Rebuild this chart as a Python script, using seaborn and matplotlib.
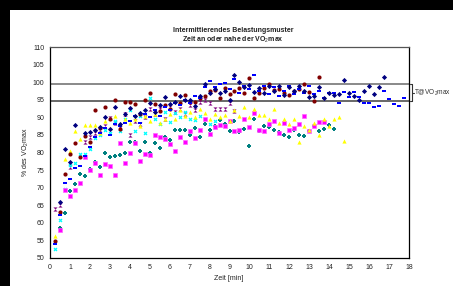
import matplotlib
matplotlib.use("Agg")
import matplotlib.pyplot as plt
from matplotlib.patches import Rectangle
from matplotlib.lines import Line2D
import seaborn as sns
import pandas as pd

# ---- data (time [min], % VO2max) ----
navy = [(0.5,65.8),(0.75,80.9),(1.0,77.2),(1.25,87.7),(1.75,85.6),(2.0,85.7),(2.25,86.4),(2.5,87.2),
        (2.75,90.2),(3.0,86.8),(3.25,92.8),(3.5,88.0),(3.75,91.0),(4.0,92.6),(4.25,90.5),(4.5,91.2),
        (4.75,92.0),(5.0,94.1),(5.25,91.5),(5.5,93.5),(5.75,95.7),(6.0,93.7),(6.25,94.5),(6.5,96.1),
        (6.75,94.8),(7.0,95.0),(7.25,93.2),(7.5,96.2),(7.75,99.5),(8.0,96.8),(8.25,98.0),(8.5,96.8),
        (8.75,97.5),(9.0,94.9),(9.25,102.0),(9.5,100.0),(9.75,98.5),(10.0,99.2),(10.25,97.2),(10.5,98.2),
        (10.75,96.8),(11.0,99.0),(11.25,97.5),(11.5,99.0),(11.75,96.3),(12.0,98.5),(12.25,97.4),(12.5,99.0),
        (12.75,97.4),(13.0,95.7),(13.25,96.2),(13.5,98.5),(13.75,95.5),(14.0,97.0),(14.25,96.4),(14.5,96.5),
        (14.75,100.6),(15.0,96.8),(15.25,96.1),(15.5,95.0),(15.75,97.4),(16.0,98.8),(16.25,96.5),(16.5,98.7),
        (16.75,101.6)]
blue = [(0.25,54.0),(0.5,62.3),(0.75,71.3),(1.0,72.5),(1.25,75.5),(1.5,76.2),(1.75,78.9),(2.0,81.5),
        (2.25,84.5),(2.5,85.5),(2.75,87.0),(3.0,85.0),(3.25,88.0),(3.5,87.5),(3.75,88.5),(4.0,89.0),
        (4.25,90.5),(4.5,88.5),(4.75,91.0),(5.0,90.0),(5.25,92.0),(5.5,90.5),(5.75,93.0),(6.0,92.0),
        (6.25,94.0),(6.5,93.5),(6.75,95.0),(7.0,94.0),(7.25,96.0),(7.5,95.5),(7.75,98.5),(8.0,100.2),
        (8.25,98.5),(8.5,99.5),(8.75,99.9),(9.0,98.0),(9.25,101.0),(9.5,97.0),(9.75,99.0),(10.0,98.0),
        (10.25,102.0),(10.5,97.5),(10.75,99.0),(11.0,96.5),(11.25,98.5),(11.5,96.0),(11.75,97.5),(12.0,99.0),
        (12.25,96.5),(12.5,98.0),(12.75,97.0),(13.0,99.0),(13.25,96.5),(13.5,97.5),(13.75,95.5),(14.0,97.0),
        (14.25,97.0),(14.5,94.2),(14.75,97.3),(15.0,95.7),(15.25,97.3),(15.5,95.7),(15.75,94.2),(16.0,94.2),
        (16.25,93.0),(16.5,93.3),(16.75,97.4),(17.0,95.2),(17.25,93.9),(17.5,93.3),(17.75,95.6)]
darkred = [(0.25,54.8),(0.5,63.0),(0.75,73.8),(1.0,79.5),(1.25,82.6),(1.5,78.6),(1.75,84.6),(2.0,83.0),
           (2.25,92.1),(2.5,87.0),(2.75,92.9),(3.0,89.5),(3.25,95.0),(3.5,86.6),(3.75,94.4),(4.0,94.5),
           (4.25,93.9),(4.5,91.0),(4.75,94.8),(5.0,96.8),(5.25,93.8),(5.5,91.9),(5.75,93.5),(6.0,92.5),
           (6.25,96.5),(6.5,94.0),(6.75,96.3),(7.0,94.3),(7.25,94.5),(7.5,95.5),(7.75,96.0),(8.0,97.6),
           (8.25,97.9),(8.5,95.4),(8.75,98.2),(9.0,96.6),(9.25,97.6),(9.5,98.2),(9.75,96.8),(10.0,101.1),
           (10.25,95.6),(10.5,97.0),(10.75,98.2),(11.0,99.5),(11.25,97.8),(11.5,98.0),(11.75,97.0),(12.0,96.4),
           (12.25,97.5),(12.5,98.0),(12.75,99.5),(13.0,97.3),(13.25,94.7),(13.5,101.4)]
yellow = [(0.25,56.3),(0.75,78.2),(1.0,80.3),(1.25,86.2),(1.5,83.8),(1.75,87.8),(2.0,87.8),(2.25,87.8),
          (2.5,85.5),(2.75,89.0),(3.0,87.0),(3.25,90.5),(3.5,88.0),(3.75,89.4),(4.0,88.5),(4.25,89.4),
          (4.5,87.5),(4.75,90.5),(5.0,89.0),(5.25,91.0),(5.5,88.5),(5.75,89.5),(6.0,91.0),(6.25,89.5),
          (6.5,92.0),(6.75,90.5),(7.0,91.5),(7.25,90.0),(7.5,92.5),(7.75,91.3),(8.0,89.5),(8.25,91.0),
          (8.5,90.0),(8.75,90.7),(9.0,89.0),(9.25,92.0),(9.5,90.5),(9.75,93.0),(10.0,90.0),(10.25,92.5),
          (10.5,90.7),(10.75,90.7),(11.0,89.4),(11.25,92.3),(11.5,88.3),(11.75,89.5),(12.0,88.0),(12.25,89.6),
          (12.5,82.9),(12.75,87.6),(13.0,86.5),(13.25,88.3),(13.5,85.1),(13.75,89.5),(14.0,87.5),(14.25,89.4),
          (14.5,90.1),(14.75,83.4)]
magenta = [(0.5,58.0),(0.75,69.3),(1.0,67.5),(1.25,69.2),(1.5,71.4),(1.75,78.6),(2.0,75.0),(2.25,77.1),
           (2.5,73.7),(2.75,76.8),(3.0,76.3),(3.25,73.7),(3.5,82.6),(3.75,76.9),(4.0,79.8),(4.25,82.6),
           (4.5,77.7),(4.75,79.6),(5.0,79.2),(5.25,85.0),(5.5,84.5),(5.75,83.8),(6.0,82.3),(6.25,80.5),
           (6.5,84.5),(6.75,83.0),(7.0,86.1),(7.25,84.0),(7.5,86.5),(7.75,89.5),(8.0,85.4),(8.25,87.2),
           (8.5,87.7),(8.75,87.5),(9.0,88.9),(9.25,86.0),(9.5,86.4),(9.75,89.4),(10.0,87.3),(10.25,91.1),
           (10.5,86.4),(10.75,86.1),(11.0,88.0),(11.25,88.9),(11.5,85.6),(11.75,88.5),(12.0,86.5),(12.25,87.0),
           (12.5,88.0),(12.75,90.3),(13.0,86.0),(13.25,87.5),(13.5,88.8),(13.75,88.8)]
cyan = [(0.25,52.5),(0.5,60.7),(0.75,69.7),(1.0,76.5),(1.25,77.0),(1.5,79.6),(1.75,79.5),(2.0,81.0),
        (2.25,84.0),(2.5,85.0),(2.75,86.5),(3.0,85.5),(3.25,88.9),(3.5,86.0),(3.75,89.5),(4.0,92.0),
        (4.25,86.2),(4.5,90.5),(4.75,85.5),(5.0,95.4),(5.25,89.5),(5.5,88.0),(5.75,91.5),(6.0,88.8),
        (6.25,91.2),(6.5,90.0),(6.75,91.5),(7.0,89.4),(7.25,89.1),(7.5,90.5),(7.75,89.5),(8.0,88.2),(8.25,89.0)]
teal = [(0.5,58.4),(0.75,62.9),(1.0,69.0),(1.25,71.0),(1.5,73.8),(1.75,73.2),(2.0,75.3),(2.25,77.2),
        (2.5,75.8),(2.75,80.0),(3.0,78.7),(3.25,79.0),(3.5,79.4),(3.75,80.0),(4.0,83.0),(4.25,83.0),
        (4.5,80.5),(4.75,83.1),(5.0,80.0),(5.25,82.7),(5.5,81.2),(5.75,84.5),(6.0,83.5),(6.25,86.4),
        (6.5,86.4),(6.75,86.4),(7.0,85.0),(7.25,87.0),(7.5,84.5),(7.75,88.1),(8.0,86.5),(8.25,87.5),
        (8.5,89.2),(8.75,88.2),(9.0,86.2),(9.25,89.0),(9.5,85.9),(9.75,86.6),(10.0,81.8),(10.25,89.5),
        (10.5,86.1),(10.75,87.5),(11.0,87.3),(11.25,86.5),(11.5,85.9),(11.75,85.0),(12.0,84.5),(12.25,86.3),
        (12.5,85.0),(12.75,84.8),(13.0,86.2),(13.25,87.5),(13.5,86.0),(13.75,86.7),(14.0,87.8),(14.25,86.8)]
purple = [(0.25,64.0),(0.5,65.0),(1.0,76.0),(1.75,83.0),(2.0,84.5),(2.25,85.5),(2.5,86.5),(2.75,87.5),
          (3.0,89.8),(3.25,88.5),(3.5,87.0),(3.75,91.0),(4.0,85.0),(4.25,89.0),(4.5,88.0),(4.75,90.0),
          (5.0,92.5),(5.25,91.0),(5.5,92.5),(5.75,89.5),(6.0,93.0),(6.25,91.6),(6.5,92.5),(6.75,91.0),
          (7.0,93.5),(7.25,92.0),(7.5,94.5),(7.75,95.0),(8.0,94.0),(8.25,92.5),(8.5,92.5),(8.75,92.5),
          (9.0,94.2),(9.25,91.8)]

band_upper = 99.5
band_lower = 94.7
x_ticks = list(range(0, 19))
y_ticks = list(range(50, 111, 5))
title_1 = "Intermittierendes Belastungsmuster"
title_2 = "Zeit an oder nahe der VO$_2$max"
x_label = "Zeit [min]"
y_label = "% des VO$_2$max"
band_label = "T@VO$_2$max"

# ---- figure ----
sns.set_style("white")
plt.rcParams["font.family"] = ["Liberation Sans", "DejaVu Sans"]
plt.rcParams["mathtext.fontset"] = "custom"
plt.rcParams["mathtext.rm"] = "Liberation Sans"
plt.rcParams["mathtext.it"] = "Liberation Sans"
plt.rcParams["mathtext.bf"] = "Liberation Sans:bold"

W, H = 453, 286
fig = plt.figure(figsize=(W / 100, H / 100), dpi=100)
fig.patch.set_facecolor("black")
fig.patches.append(Rectangle((10 / W, 0), 1 - 10 / W, (H - 10) / H, transform=fig.transFigure,
                             facecolor="white", edgecolor="none", zorder=-5))

ax = fig.add_axes([50 / W, 28 / H, (409 - 50) / W, (258 - 47) / H])
ax.set_facecolor("white")
ax.set_zorder(1)

hourglass = [(-1, 1), (1, 1), (0, 0), (1, -1), (-1, -1), (0, 0)]
dash = [(-1, -0.45), (1, -0.45), (1, 0.45), (-1, 0.45)]

series = [
    (purple, "#800080", hourglass, 9, 0),
    (teal, "#008080", "P", 8, 0),
    (cyan, "#00FFFF", "X", 8, 0),
    (magenta, "#FF00FF", "s", 8, 0.5),
    (yellow, "#FFFF00", "^", 9, 0),
    (darkred, "#800000", "o", 9, 0),
    (blue, "#0000FF", dash, 9, 0),
    (navy, "#000080", "D", 7, 0),
]
for pts, col, mk, size, lw in series:
    df = pd.DataFrame(pts, columns=["t", "v"])
    sns.scatterplot(data=df, x="t", y="v", ax=ax, color=col, marker=mk, s=size,
                    edgecolor=("#FF66FF" if col == "#FF00FF" else col), linewidth=lw, zorder=3)

ax.axhline(band_upper, color="#808080", lw=1.3, zorder=2)
ax.axhline(band_lower, color="#404040", lw=1.1, zorder=2)

ax.set_xlim(0, 18)
ax.set_ylim(50, 110)
ax.set_xticks(x_ticks)
ax.set_yticks(y_ticks)
ax.tick_params(axis="both", labelsize=5, colors="#222222", length=2, width=0.6, pad=2, direction="out")
for s in ax.spines.values():
    s.set_color("black")
    s.set_linewidth(0.9)
ax.spines["top"].set_color("#555555")
ax.set_xlabel("")
ax.set_ylabel("")

fig.text(233 / W, 1 - 30 / H, title_1, ha="center", va="center", fontsize=5, fontweight="bold", color="#222222")
fig.text(233 / W, 1 - 40 / H, title_2, ha="center", va="center", fontsize=5, fontweight="bold", color="#222222")
fig.text(229 / W, 1 - 279 / H, x_label, ha="center", va="center", fontsize=5, color="#222222")
fig.text(26 / W, 1 - 152 / H, y_label, ha="center", va="center", rotation=90, fontsize=5, color="#222222")

# bracket for T@VO2max
yt = 1 - 84 / H
yb = 1 - 101 / H
xb = 411.5 / W
fig.add_artist(Line2D([xb, xb], [yb, yt], transform=fig.transFigure, color="#333333", lw=0.8))
fig.add_artist(Line2D([xb - 2 / W, xb], [yt, yt], transform=fig.transFigure, color="#333333", lw=0.8))
fig.add_artist(Line2D([xb - 2 / W, xb], [yb, yb], transform=fig.transFigure, color="#333333", lw=0.8))
fig.add_artist(Line2D([xb, xb + 2 / W], [(yt + yb) / 2] * 2, transform=fig.transFigure, color="#333333", lw=0.8))
fig.text(414 / W, (yt + yb) / 2, band_label, ha="left", va="center", fontsize=4.7, color="#333333")

fig.savefig("out.png", dpi=100, facecolor=fig.get_facecolor())
